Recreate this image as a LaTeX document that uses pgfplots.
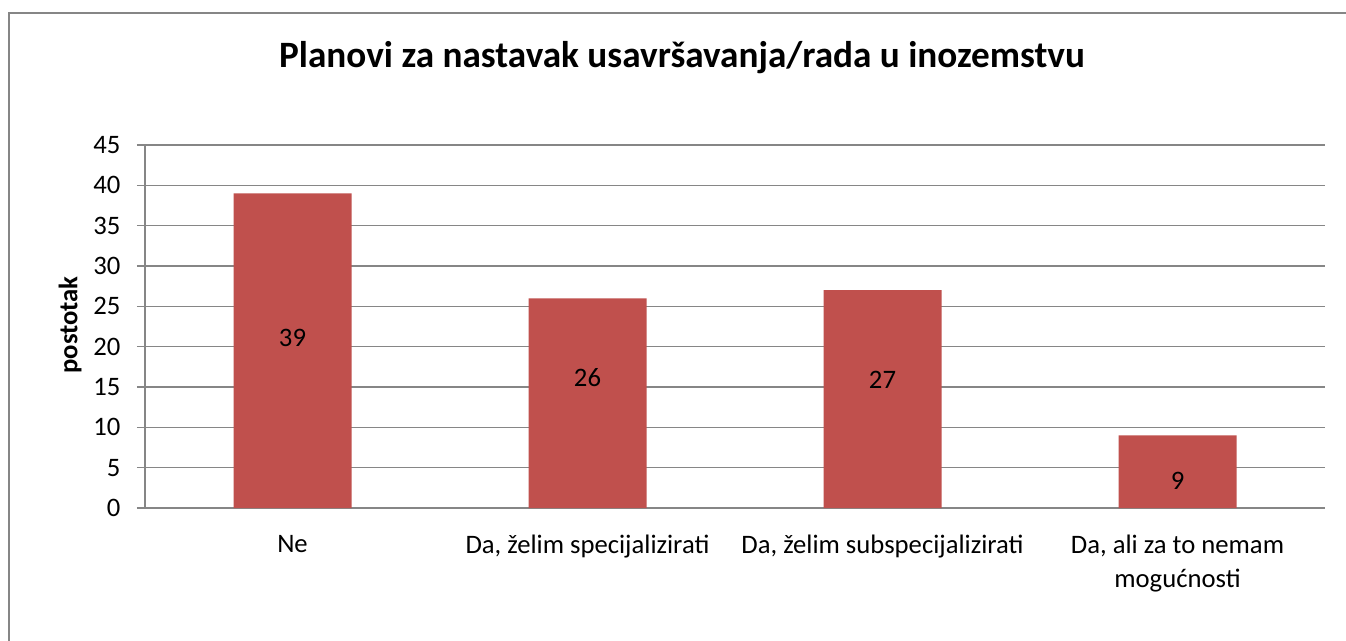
\documentclass[border=0pt]{standalone}
\usepackage{pgfplots}
\pgfplotsset{compat=1.18}
\usepackage{fontspec}
\setmainfont{Carlito}
\definecolor{barred}{HTML}{C0504D}
\definecolor{gridgray}{HTML}{868686}
\begin{document}
\begin{tikzpicture}[x=0.75pt,y=0.75pt]
\useasboundingbox (0,0) rectangle (1346,640);
\fill[white] (0,0) rectangle (1346,640);
\draw[gridgray,line width=1.5pt] (9,-10) -- (9,627) -- (1360,627);
\node[font=\fontsize{27.9}{30}\selectfont\bfseries,anchor=base] at (682,572) {Planovi za nastavak usavršavanja/rada u inozemstvu};
\node[font=\fontsize{20}{24}\selectfont\bfseries,rotate=90] at (70,315) {postotak};
\begin{axis}[
  at={(108.75pt,99pt)}, anchor=south west,
  scale only axis, width=885pt, height=272.25pt,
  xmin=-0.5, xmax=3.5, ymin=0, ymax=45,
  ytick={0,5,...,45},
  xtick={0,1,2,3},
  xticklabels={Ne, {Da, želim specijalizirati}, {Da, želim subspecijalizirati}, {Da, ali za to nemam\\mogućnosti}},
  xticklabel style={align=center, font=\fontsize{20}{25}\selectfont, yshift=-11pt},
  yticklabel style={font=\fontsize{20}{24}\selectfont, xshift=-9pt},
  /pgf/number format/assume math mode=true,
  axis x line*=bottom, axis y line*=left,
  x axis line style={gridgray, line width=1pt, -},
  y axis line style={gridgray, line width=1pt, -},
  major x tick style={draw=none},
  major y tick style={gridgray, line width=1pt},
  tick align=outside, major tick length=6pt,
  ymajorgrids, grid style={gridgray, line width=1pt},
  clip=false,
]
\addplot[ybar, bar width=88.5pt, fill=barred, draw=none] coordinates {(0,39) (1,26) (2,27) (3,9)};
\addplot[only marks, mark=none, nodes near coords, point meta=explicit symbolic,
  every node near coord/.style={anchor=center, font=\fontsize{20}{24}\selectfont, text=black}]
  coordinates {(0,21.1)[39] (1,16.2)[26] (2,15.9)[27] (3,3.35)[9]};
\end{axis}
\end{tikzpicture}
\end{document}
